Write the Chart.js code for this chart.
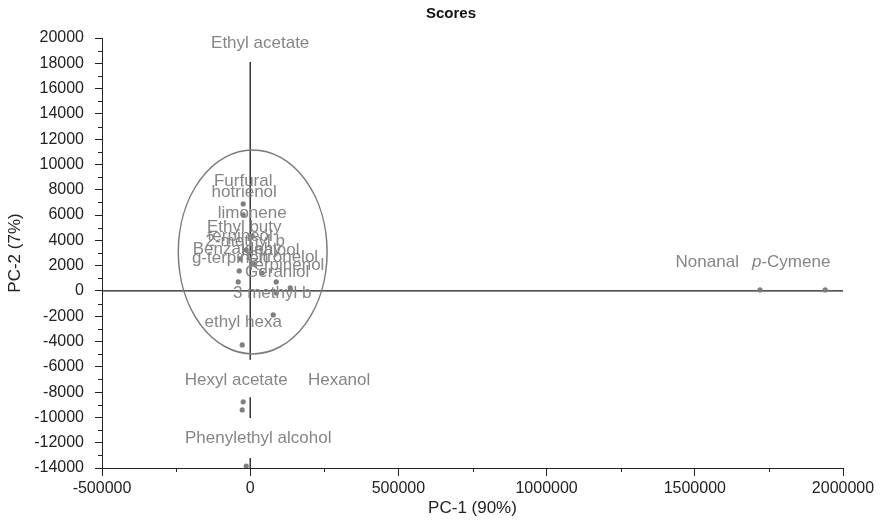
<!DOCTYPE html>
<html>
<head>
<meta charset="utf-8">
<title>Scores</title>
<script src="https://cdn.jsdelivr.net/npm/chart.js@4.4.0/dist/chart.umd.min.js"></script>
<style>
  html, body { margin: 0; padding: 0; background: #fff; }
  #wrap { width: 886px; height: 523px; position: relative; }
</style>
</head>
<body>
<div id="wrap"><canvas id="scoresChart"></canvas></div>
<script>
// 数据：化合物名称和主成分得分
const names = ['Ethyl acetate', 'Furfural', 'hotrienol', 'limonene', 'Ethyl buty', 'terpineol',
  '2-methyl b', 'Benzaldehy', 'Linalool', 'g-terpinen', 'Citronelol', 'Terpinenol', 'Geraniol',
  '3 methyl b', 'ethyl hexa', 'Hexanol', 'Hexyl acetate', 'Phenylethyl alcohol', 'Nonanal', 'p-Cymene'];
const pc1 = [-6700, -23600, -23600, 6700, -13500, -33700,
  13500, -37100, 40500, -40500, 87700, 135000, 87700,
  77600, -27000, -23600, -27000, -13500, 1720000, 1940000];
const pc2 = [19500, 6880, 6010, 4350, 3240, 2530,
  2130, 1580, 1420, 710, 710, 240, -160,
  -1900, -4270, -8770, -9410, -13840, 80, 80];

// 标签位置（数据单位，文字中心）
const labelX = [33700, -23600, -20200, 6700, -20200, -33700,
  -16900, -43900, 67500, -67500, 108000, 118000, 91100,
  74200, -23600, 300000, -47200, 27000, 1542000, 1825000];
const labelY = [19600, 8700, 7830, 6170, 5060, 4350,
  3950, 3320, 3240, 2610, 2690, 2060, 1500,
  -160, -2450, -7040, -7040, -11620, 2290, 2290];
// 带白底的标签
const boxedLabels = ['Ethyl acetate'];

// 坐标轴范围和刻度
const xTicks = [-500000, 0, 500000, 1000000, 1500000, 2000000];
const yTicks = [-14000, -12000, -10000, -8000, -6000, -4000, -2000, 0,
  2000, 4000, 6000, 8000, 10000, 12000, 14000, 16000, 18000, 20000];

// 零线（竖线分段）和置信椭圆
const vLineSegs = [[18100, -5450], [-8400, -10050], [-13200, -14000]];
const ellipseCenter = [8400, 3080];
const ellipseRadii = [251000, 8060];

const chartTitle = 'Scores';
const labelFont = '17px "Liberation Sans", Arial, sans-serif';
const labelColor = '#858585';

const overlay = {
  id: 'overlay',
  beforeDatasetsDraw(chart) {
    const { ctx, scales: { x, y } } = chart;
    ctx.save();
    // 横向零线
    ctx.strokeStyle = '#1a1a1a';
    ctx.lineWidth = 1.3;
    ctx.beginPath();
    ctx.moveTo(x.left, y.getPixelForValue(0));
    ctx.lineTo(x.right, y.getPixelForValue(0));
    ctx.stroke();
    // 竖向零线
    const x0 = x.getPixelForValue(0);
    vLineSegs.forEach(s => {
      ctx.beginPath();
      ctx.moveTo(x0, y.getPixelForValue(s[0]));
      ctx.lineTo(x0, y.getPixelForValue(s[1]));
      ctx.stroke();
    });
    // 椭圆
    const cx = x.getPixelForValue(ellipseCenter[0]);
    const cy = y.getPixelForValue(ellipseCenter[1]);
    const rx = Math.abs(x.getPixelForValue(ellipseCenter[0] + ellipseRadii[0]) - cx);
    const ry = Math.abs(y.getPixelForValue(ellipseCenter[1] + ellipseRadii[1]) - cy);
    ctx.strokeStyle = '#7a7a7a';
    ctx.lineWidth = 1.5;
    ctx.beginPath();
    ctx.ellipse(cx, cy, rx, ry, 0, 0, Math.PI * 2);
    ctx.stroke();
    // 次刻度
    ctx.strokeStyle = '#222';
    ctx.lineWidth = 1;
    for (let i = 0; i < yTicks.length - 1; i++) {
      const py = Math.round(y.getPixelForValue((yTicks[i] + yTicks[i + 1]) / 2)) + 0.5;
      ctx.beginPath();
      ctx.moveTo(x.left - 4, py);
      ctx.lineTo(x.left, py);
      ctx.stroke();
    }
    for (let i = 0; i < xTicks.length - 1; i++) {
      const px = Math.round(x.getPixelForValue((xTicks[i] + xTicks[i + 1]) / 2)) + 0.5;
      ctx.beginPath();
      ctx.moveTo(px, y.bottom);
      ctx.lineTo(px, y.bottom + 4);
      ctx.stroke();
    }
    // 标题
    ctx.fillStyle = '#111';
    ctx.font = 'bold 15px "Liberation Sans", Arial, sans-serif';
    ctx.textAlign = 'center';
    ctx.textBaseline = 'middle';
    ctx.fillText(chartTitle, 451, 14);
    ctx.restore();
  },
  afterDatasetsDraw(chart) {
    const { ctx, scales: { x, y } } = chart;
    ctx.save();
    ctx.textBaseline = 'middle';
    ctx.font = labelFont;
    names.forEach((n, i) => {
      const px = x.getPixelForValue(labelX[i]);
      const py = y.getPixelForValue(labelY[i]);
      if (boxedLabels.includes(n)) {
        const w = ctx.measureText(n).width;
        ctx.fillStyle = '#fff';
        ctx.fillRect(px - w / 2 - 2, py - 10, w + 4, 28);
      }
      ctx.fillStyle = labelColor;
      if (n.startsWith('p-')) {
        // 斜体 p
        ctx.font = 'italic ' + labelFont;
        const w1 = ctx.measureText('p').width;
        ctx.font = labelFont;
        const w2 = ctx.measureText(n.slice(1)).width;
        const start = px - (w1 + w2) / 2;
        ctx.textAlign = 'left';
        ctx.font = 'italic ' + labelFont;
        ctx.fillText('p', start, py);
        ctx.font = labelFont;
        ctx.fillText(n.slice(1), start + w1, py);
      } else {
        ctx.textAlign = 'center';
        ctx.fillText(n, px, py);
      }
    });
    ctx.restore();
  }
};

const tickFont = { family: '"Liberation Sans", Arial, sans-serif', size: 16 };
const axisTitleFont = { family: '"Liberation Sans", Arial, sans-serif', size: 17 };

new Chart(document.getElementById('scoresChart'), {
  type: 'scatter',
  data: {
    datasets: [{
      label: 'Scores',
      data: pc1.map((v, i) => ({ x: v, y: pc2[i] })),
      backgroundColor: '#7f7f7f',
      borderColor: '#7f7f7f',
      pointRadius: 2.6,
      pointBorderWidth: 0
    }]
  },
  options: {
    responsive: true,
    maintainAspectRatio: false,
    animation: false,
    layout: { padding: { left: 0, right: 43, top: 38, bottom: 0 } },
    plugins: {
      legend: { display: false },
      tooltip: { enabled: false },
      title: { display: false }
    },
    scales: {
      x: {
        type: 'linear',
        min: xTicks[0],
        max: xTicks[xTicks.length - 1],
        afterFit: s => { s.height = 55; },
        afterBuildTicks: s => { s.ticks = xTicks.map(v => ({ value: v })); },
        ticks: { color: '#222', font: tickFont, padding: 3, maxRotation: 0, callback: v => String(v) },
        grid: { drawOnChartArea: false, tickLength: 8, color: '#222' },
        border: { display: true, color: '#222', width: 1 },
        title: { display: true, text: 'PC-1 (90%)', color: '#222', font: axisTitleFont, padding: { top: 0, bottom: 4 } }
      },
      y: {
        type: 'linear',
        min: yTicks[0],
        max: yTicks[yTicks.length - 1],
        afterFit: s => { s.width = 102; },
        afterBuildTicks: s => { s.ticks = yTicks.map(v => ({ value: v })); },
        ticks: { color: '#222', font: tickFont, padding: 11, callback: v => String(v) },
        grid: { drawOnChartArea: false, tickLength: 7, color: '#222' },
        border: { display: true, color: '#222', width: 1 },
        title: { display: true, text: 'PC-2 (7%)', color: '#222', font: axisTitleFont, padding: { top: 5, bottom: 0 } }
      }
    }
  },
  plugins: [overlay]
});
</script>
</body>
</html>
